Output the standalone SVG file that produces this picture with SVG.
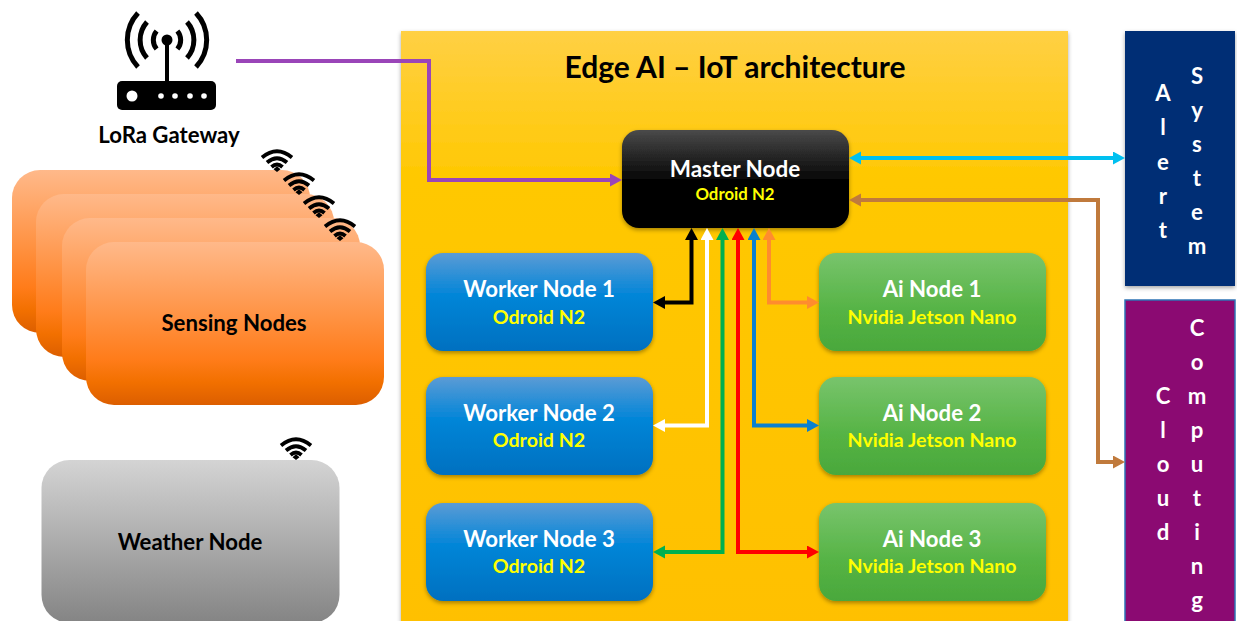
<svg xmlns="http://www.w3.org/2000/svg" width="1237" height="621" viewBox="0 0 1237 621">
<style>
text{font-family:"Lato","Open Sans","Liberation Sans",sans-serif;font-weight:700;text-anchor:middle}
.w{fill:#fff}.y{fill:#ff0}.k{fill:#000}
.t1{font-size:22.2px}.t2{font-size:19.6px}
.conn{fill:none;stroke-width:4}
.arc{fill:none;stroke:#000;stroke-width:5}
.wifi{fill:none;stroke:#000;stroke-width:3.8}
.sh{filter:url(#sh)}
</style>
<defs>
<filter id="sh" x="-5%" y="-5%" width="110%" height="112%"><feDropShadow dx="0" dy="2" stdDeviation="2" flood-color="#000" flood-opacity=".35"/></filter>
<linearGradient id="gPanel" x1="0" y1="0" x2="0" y2="1"><stop offset="0" stop-color="#ffd044"/><stop offset=".25" stop-color="#ffc800"/><stop offset="1" stop-color="#ffc000"/></linearGradient>
<linearGradient id="gMaster" x1="0" y1="0" x2="0" y2="1"><stop offset="0" stop-color="#4a4a4a"/><stop offset=".55" stop-color="#000"/><stop offset="1" stop-color="#000"/></linearGradient>
<linearGradient id="gWorker" x1="0" y1="0" x2="0" y2="1"><stop offset="0" stop-color="#5b9bd5"/><stop offset=".42" stop-color="#0486d8"/><stop offset="1" stop-color="#0070c0"/></linearGradient>
<linearGradient id="gAi" x1="0" y1="0" x2="0" y2="1"><stop offset="0" stop-color="#78c46c"/><stop offset=".6" stop-color="#55b344"/><stop offset="1" stop-color="#4aa83c"/></linearGradient>
<linearGradient id="gSense" x1="0" y1="0" x2="0" y2="1"><stop offset="0" stop-color="#ffb98a"/><stop offset=".72" stop-color="#ff7c1a"/><stop offset=".86" stop-color="#f27000"/><stop offset="1" stop-color="#dc5e00"/></linearGradient>
<linearGradient id="gWeather" x1="0" y1="0" x2="0" y2="1"><stop offset="0" stop-color="#d4d4d4"/><stop offset="1" stop-color="#848484"/></linearGradient>
<marker id="mPurple" markerUnits="userSpaceOnUse" markerWidth="14" markerHeight="14" refX="1" refY="6.5" orient="auto-start-reverse"><path d="M0 0L12 6.5L0 13z" fill="#9a45b8"/></marker>
<marker id="mCyan" markerUnits="userSpaceOnUse" markerWidth="14" markerHeight="14" refX="1" refY="6.5" orient="auto-start-reverse"><path d="M0 0L12 6.5L0 13z" fill="#00c0f0"/></marker>
<marker id="mBrown" markerUnits="userSpaceOnUse" markerWidth="14" markerHeight="14" refX="1" refY="6.5" orient="auto-start-reverse"><path d="M0 0L12 6.5L0 13z" fill="#c07a3c"/></marker>
<marker id="mBlack" markerUnits="userSpaceOnUse" markerWidth="14" markerHeight="14" refX="1" refY="6.5" orient="auto-start-reverse"><path d="M0 0L12 6.5L0 13z" fill="#000"/></marker>
<marker id="mWhite" markerUnits="userSpaceOnUse" markerWidth="14" markerHeight="14" refX="1" refY="6.5" orient="auto-start-reverse"><path d="M0 0L12 6.5L0 13z" fill="#fff"/></marker>
<marker id="mGreen" markerUnits="userSpaceOnUse" markerWidth="14" markerHeight="14" refX="1" refY="6.5" orient="auto-start-reverse"><path d="M0 0L12 6.5L0 13z" fill="#00b050"/></marker>
<marker id="mRed" markerUnits="userSpaceOnUse" markerWidth="14" markerHeight="14" refX="1" refY="6.5" orient="auto-start-reverse"><path d="M0 0L12 6.5L0 13z" fill="#f00"/></marker>
<marker id="mBlue" markerUnits="userSpaceOnUse" markerWidth="14" markerHeight="14" refX="1" refY="6.5" orient="auto-start-reverse"><path d="M0 0L12 6.5L0 13z" fill="#0a80d0"/></marker>
<marker id="mOrange" markerUnits="userSpaceOnUse" markerWidth="14" markerHeight="14" refX="1" refY="6.5" orient="auto-start-reverse"><path d="M0 0L12 6.5L0 13z" fill="#ff8c2e"/></marker>
<g id="wifi"><path class="wifi" d="M-15 -14.500Q0 -27 15 -14.500"/><path class="wifi" d="M-10 -9.500Q0 -18 10 -9.500"/><path class="wifi" d="M-5.500 -5Q0 -10 5.500 -5"/><path d="M-3.500 -2.800L0 0L3.500 -2.800L0 -5.800z" fill="#000"/></g>
</defs>

<g id="edge-panel"><rect class="sh" x="401" y="31" width="667" height="600" fill="url(#gPanel)"/>
<text x="735" y="78" style="font-size:30px" class="k">Edge AI – IoT architecture</text></g>

<g id="lora-gateway">
<path class="arc" d="M156.600 31A14 14 0 0 0 156.600 49M177.400 31A14 14 0 0 1 177.400 49M147 22A27 27 0 0 0 147 58M187 22A27 27 0 0 1 187 58M138 13A39.500 39.500 0 0 0 138 67M196 13A39.500 39.500 0 0 1 196 67"/>
<circle cx="167" cy="40" r="5.500"/><rect x="165" y="40" width="4" height="42"/>
<rect x="117" y="81" width="99" height="29" rx="5"/>
<circle cx="132" cy="96" r="5.500" fill="#fff"/>
<g fill="#fff"><circle cx="161" cy="96" r="2.800"/><circle cx="175" cy="96" r="2.800"/><circle cx="190" cy="96" r="2.800"/><circle cx="204" cy="96" r="2.800"/></g>
<text x="169" y="143" class="t1 k">LoRa Gateway</text></g>

<g id="sensing-nodes">
<rect x="12" y="170" width="298" height="163" rx="28" fill="url(#gSense)"/>
<rect x="36" y="194" width="298" height="163" rx="28" fill="url(#gSense)"/>
<rect x="62" y="218" width="298" height="163" rx="28" fill="url(#gSense)"/>
<rect x="86" y="242" width="298" height="163" rx="28" fill="url(#gSense)"/>
<use href="#wifi" x="277" y="172"/><use href="#wifi" x="299" y="195"/><use href="#wifi" x="319" y="218"/><use href="#wifi" x="340" y="241"/>
<text x="234" y="331" class="t1 k">Sensing Nodes</text></g>

<g id="weather-node">
<rect x="41.500" y="460" width="298" height="163" rx="28" fill="url(#gWeather)"/>
<use href="#wifi" x="296" y="460"/>
<text x="190" y="550" class="t1 k">Weather Node</text></g>

<g id="master-node"><rect class="sh" x="622" y="130" width="227" height="98" rx="17" fill="url(#gMaster)"/>
<text x="735" y="177" class="w" style="font-size:22.500px">Master Node</text>
<text x="735" y="200" class="y" style="font-size:16.800px">Odroid N2</text></g>

<g id="worker-1"><rect class="sh" x="426" y="253" width="227" height="98" rx="17" fill="url(#gWorker)"/><text x="539" y="297" class="w t1">Worker Node 1</text><text x="539" y="324" class="y t2">Odroid N2</text></g>
<g id="worker-2"><rect class="sh" x="426" y="377" width="227" height="98" rx="17" fill="url(#gWorker)"/><text x="539" y="421" class="w t1">Worker Node 2</text><text x="539" y="447" class="y t2">Odroid N2</text></g>
<g id="worker-3"><rect class="sh" x="426" y="503" width="227" height="98" rx="17" fill="url(#gWorker)"/><text x="539" y="547" class="w t1">Worker Node 3</text><text x="539" y="573" class="y t2">Odroid N2</text></g>
<g id="ai-1"><rect class="sh" x="819" y="253" width="227" height="98" rx="17" fill="url(#gAi)"/><text x="932" y="297" class="w t1">Ai Node 1</text><text x="932" y="324" class="y t2">Nvidia Jetson Nano</text></g>
<g id="ai-2"><rect class="sh" x="819" y="377" width="227" height="98" rx="17" fill="url(#gAi)"/><text x="932" y="421" class="w t1">Ai Node 2</text><text x="932" y="447" class="y t2">Nvidia Jetson Nano</text></g>
<g id="ai-3"><rect class="sh" x="819" y="503" width="227" height="98" rx="17" fill="url(#gAi)"/><text x="932" y="547" class="w t1">Ai Node 3</text><text x="932" y="573" class="y t2">Nvidia Jetson Nano</text></g>

<g id="alert-system"><rect class="sh" x="1125" y="31" width="110" height="255" fill="#002f74"/>
<text class="w t1"><tspan x="1163" y="101">A</tspan><tspan x="1163" y="135">l</tspan><tspan x="1163" y="170">e</tspan><tspan x="1163" y="204">r</tspan><tspan x="1163" y="238">t</tspan></text>
<text class="w t1"><tspan x="1197" y="84">S</tspan><tspan x="1197" y="118">y</tspan><tspan x="1197" y="152">s</tspan><tspan x="1197" y="186">t</tspan><tspan x="1197" y="220">e</tspan><tspan x="1197" y="254">m</tspan></text></g>

<g id="cloud-computing"><rect x="1125" y="300" width="110" height="330" fill="#8b0a72" stroke="#2e74b5" stroke-width="1.500"/>
<text class="w t1"><tspan x="1163" y="404">C</tspan><tspan x="1163" y="438">l</tspan><tspan x="1163" y="472">o</tspan><tspan x="1163" y="506">u</tspan><tspan x="1163" y="540">d</tspan></text>
<text class="w t1"><tspan x="1197" y="336">C</tspan><tspan x="1197" y="370">o</tspan><tspan x="1197" y="404">m</tspan><tspan x="1197" y="438">p</tspan><tspan x="1197" y="472">u</tspan><tspan x="1197" y="506">t</tspan><tspan x="1197" y="540">i</tspan><tspan x="1197" y="574">n</tspan><tspan x="1197" y="608">g</tspan></text></g>

<g id="connectors">
<path class="conn" stroke="#9a45b8" marker-end="url(#mPurple)" d="M236 61H429V180H611"/>
<path class="conn" stroke="#00c0f0" marker-start="url(#mCyan)" marker-end="url(#mCyan)" d="M860 158H1114"/>
<path class="conn" stroke="#c07a3c" marker-start="url(#mBrown)" marker-end="url(#mBrown)" d="M860 200H1098V462H1114"/>
<path class="conn" stroke="#000" marker-start="url(#mBlack)" marker-end="url(#mBlack)" d="M691.500 239V302.500H664"/>
<path class="conn" stroke="#fff" marker-start="url(#mWhite)" marker-end="url(#mWhite)" d="M707 239V425.500H664"/>
<path class="conn" stroke="#00b050" marker-start="url(#mGreen)" marker-end="url(#mGreen)" d="M722.500 239V552H664"/>
<path class="conn" stroke="#f00" marker-start="url(#mRed)" marker-end="url(#mRed)" d="M738 239V552H808"/>
<path class="conn" stroke="#0a80d0" marker-start="url(#mBlue)" marker-end="url(#mBlue)" d="M754 239V425.500H808"/>
<path class="conn" stroke="#ff8c2e" marker-start="url(#mOrange)" marker-end="url(#mOrange)" d="M769 239V302.500H808"/>
</g>
</svg>
